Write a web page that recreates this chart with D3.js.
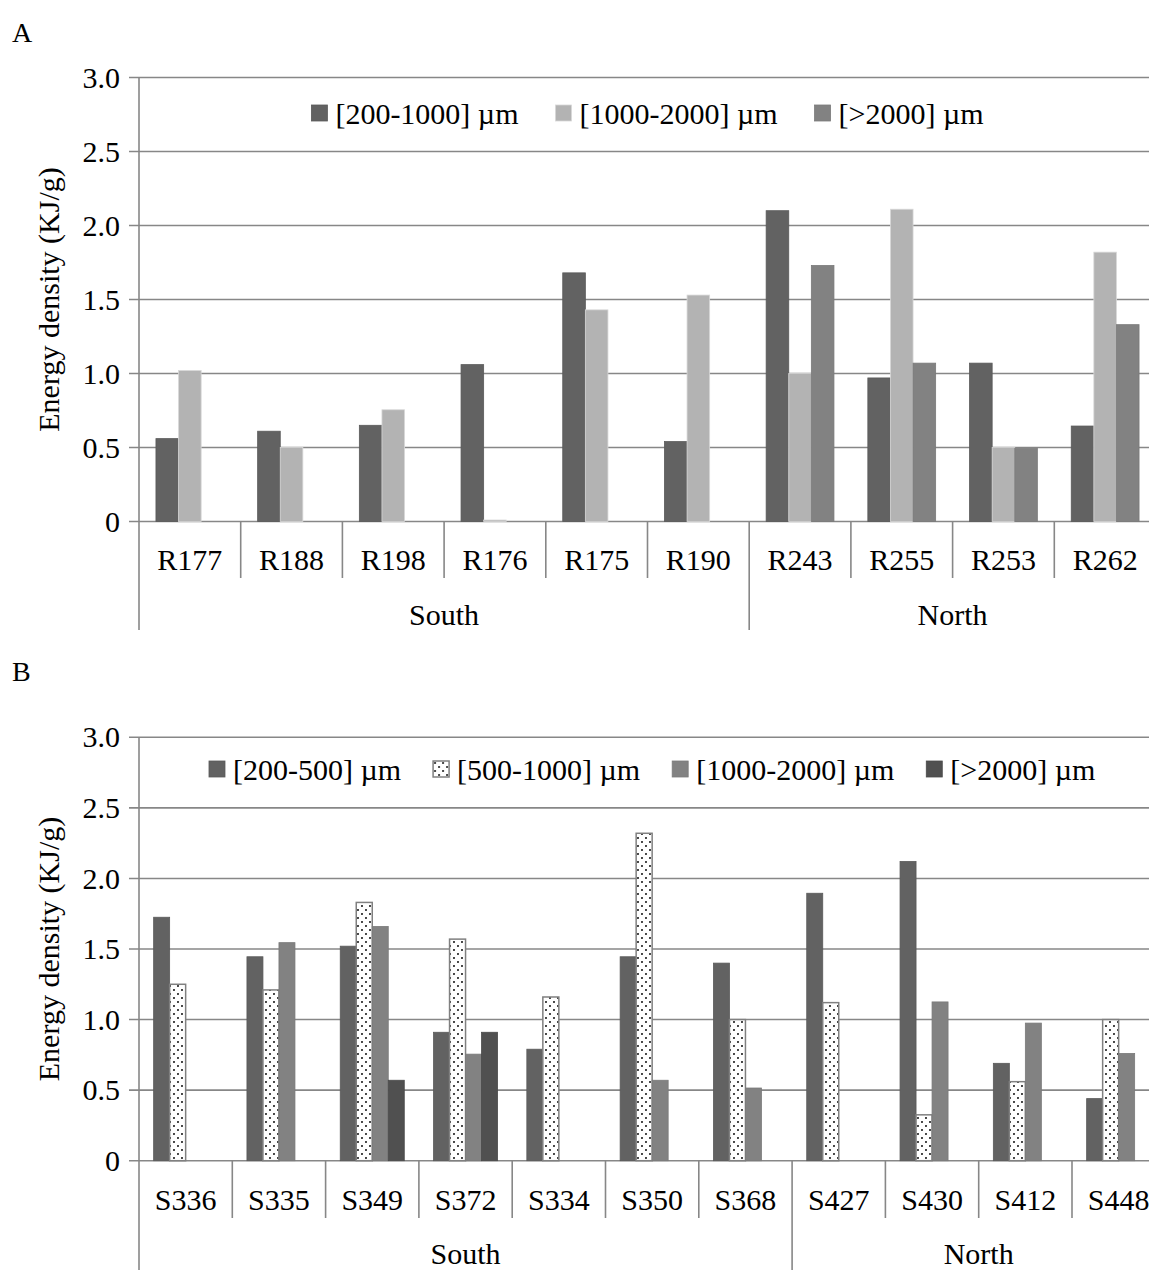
<!DOCTYPE html>
<html>
<head>
<meta charset="utf-8">
<script src="https://cdn.jsdelivr.net/npm/d3@7"></script>
<style>
  html, body { margin: 0; padding: 0; background: #fff; }
  svg { display: block; font-family: "Liberation Serif", "Times New Roman", serif; }
</style>
</head>
<body>
<svg id="chart" width="1149" height="1270"></svg>
<script>
// ---------- DATA ----------
const yTicks = [0, 0.5, 1.0, 1.5, 2.0, 2.5, 3.0];

// Panel A
const categoriesA = ["R177", "R188", "R198", "R176", "R175", "R190", "R243", "R255", "R253", "R262"];
const groupsA = [{ name: "South", count: 6 }, { name: "North", count: 4 }];
const seriesNamesA = ["[200-1000] µm", "[1000-2000] µm", "[>2000] µm"];
const a200_1000 = [0.56, 0.61, 0.65, 1.06, 1.68, 0.54, 2.10, 0.97, 1.07, 0.645];
const a1000_2000 = [1.02, 0.50, 0.755, 0.01, 1.43, 1.53, 1.00, 2.11, 0.50, 1.82];
const aOver2000 = [null, null, null, null, null, null, 1.73, 1.07, 0.495, 1.33];

// Panel B
const categoriesB = ["S336", "S335", "S349", "S372", "S334", "S350", "S368", "S427", "S430", "S412", "S448"];
const groupsB = [{ name: "South", count: 7 }, { name: "North", count: 4 }];
const seriesNamesB = ["[200-500] µm", "[500-1000] µm", "[1000-2000] µm", "[>2000] µm"];
const b200_500 = [1.725, 1.445, 1.52, 0.91, 0.79, 1.445, 1.40, 1.895, 2.12, 0.69, 0.44];
const b500_1000 = [1.25, 1.21, 1.83, 1.57, 1.16, 2.32, 1.00, 1.12, 0.325, 0.56, 1.00];
const b1000_2000 = [null, 1.545, 1.66, 0.755, null, 0.57, 0.515, null, 1.125, 0.975, 0.76];
const bOver2000 = [null, null, 0.57, 0.91, null, null, null, null, null, null, null];

// ---------- DRAWING ----------
const svg = d3.select("#chart");
const FONT = 30;
const GRID = "#878787";

const defs = svg.append("defs");
const pat = defs.append("pattern").attr("id", "dots").attr("patternUnits", "userSpaceOnUse")
  .attr("width", 8).attr("height", 8);
pat.append("rect").attr("width", 8).attr("height", 8).attr("fill", "#fff");
pat.append("circle").attr("cx", 2).attr("cy", 2).attr("r", 1.05).attr("fill", "#1a1a1a");
pat.append("circle").attr("cx", 6).attr("cy", 6).attr("r", 1.05).attr("fill", "#1a1a1a");

function drawPanel(cfg) {
  const g = svg.append("g");
  const x = d3.scaleBand().domain(cfg.categories).range([cfg.x0, cfg.x1]).paddingInner(0).paddingOuter(0);
  const y = d3.scaleLinear().domain([0, 3]).range([cfg.y0, cfg.y3]);
  const xs = d3.scaleBand().domain(d3.range(cfg.series.length)).range([0, x.bandwidth()])
    .paddingInner(0).paddingOuter(cfg.outerPad);

  // panel letter
  g.append("text").attr("x", 12).attr("y", cfg.letterY).attr("font-size", 28).text(cfg.letter);

  // gridlines
  g.append("g").selectAll("line").data(yTicks).join("line")
    .attr("x1", cfg.x0 - 10).attr("x2", 1149)
    .attr("y1", d => y(d)).attr("y2", d => y(d))
    .attr("stroke", GRID).attr("stroke-width", 1.6);

  // y axis using d3 axis for labels
  const yAxis = d3.axisLeft(y).tickValues(yTicks)
    .tickFormat(d => d === 0 ? "0" : d3.format(".1f")(d)).tickSize(0).tickPadding(19);
  const ya = g.append("g").attr("transform", `translate(${cfg.x0},0)`).call(yAxis);
  ya.select(".domain").remove();
  ya.selectAll("text").attr("font-size", FONT).attr("font-family", "Liberation Serif").attr("fill", "#000");

  // y axis title
  g.append("text")
    .attr("transform", `translate(${cfg.titleX},${(cfg.y0 + cfg.y3) / 2}) rotate(-90)`)
    .attr("text-anchor", "middle").attr("dominant-baseline", "central")
    .attr("font-size", FONT).text("Energy density (KJ/g)");

  // bars
  cfg.series.forEach((vals, si) => {
    g.append("g").selectAll("rect").data(vals.map((v, i) => ({ v, c: cfg.categories[i] })).filter(d => d.v != null))
      .join("rect")
      .attr("x", d => x(d.c) + xs(si))
      .attr("width", xs.bandwidth())
      .attr("y", d => y(d.v))
      .attr("height", d => y(0) - y(d.v))
      .attr("fill", cfg.fills[si])
      .attr("stroke", cfg.strokes[si])
      .attr("stroke-width", cfg.strokeW[si]);
  });

  // vertical axis line
  g.append("line").attr("x1", cfg.x0).attr("x2", cfg.x0)
    .attr("y1", cfg.y3).attr("y2", cfg.groupBottom)
    .attr("stroke", GRID).attr("stroke-width", 1.6);

  // category separators
  const bounds = cfg.categories.slice(1).map(c => x(c));
  let acc = 0;
  const groupBounds = new Set();
  cfg.groups.forEach(gr => { acc += gr.count; groupBounds.add(acc); });
  g.append("g").selectAll("line").data(bounds).join("line")
    .attr("x1", d => d).attr("x2", d => d)
    .attr("y1", cfg.y0)
    .attr("y2", (d, i) => groupBounds.has(i + 1) ? cfg.groupBottom : cfg.catBottom)
    .attr("stroke", GRID).attr("stroke-width", 1.6);

  // category labels
  g.append("g").selectAll("text").data(cfg.categories).join("text")
    .attr("x", d => x(d) + x.bandwidth() / 2)
    .attr("y", cfg.catLabelY)
    .attr("text-anchor", "middle").attr("font-size", FONT).text(d => d);

  // group labels
  let start = 0;
  cfg.groups.forEach(gr => {
    const a = x(cfg.categories[start]);
    const b = x(cfg.categories[start + gr.count - 1]) + x.bandwidth();
    g.append("text").attr("x", (a + b) / 2).attr("y", cfg.groupLabelY)
      .attr("text-anchor", "middle").attr("font-size", FONT).text(gr.name);
    start += gr.count;
  });

  // legend
  const lg = g.append("g");
  let cx = 0;
  const sq = 16, gapSq = 8, gapItem = cfg.legendGap;
  cfg.seriesNames.forEach((name, si) => {
    const item = lg.append("g").attr("transform", `translate(${cx},0)`);
    item.append("rect").attr("x", 0).attr("y", -sq / 2).attr("width", sq).attr("height", sq)
      .attr("fill", cfg.fills[si]).attr("stroke", cfg.strokes[si]).attr("stroke-width", cfg.strokeW[si]);
    const t = item.append("text").attr("x", sq + gapSq).attr("y", 0)
      .attr("dominant-baseline", "central").attr("font-size", FONT).text(name);
    const w = t.node().getComputedTextLength();
    cx += sq + gapSq + w + gapItem;
  });
  const totalW = cx - gapItem;
  lg.attr("transform", `translate(${(cfg.x0 + cfg.x1) / 2 - totalW / 2},${cfg.legendY})`);
}

drawPanel({
  letter: "A", letterY: 42,
  categories: categoriesA, groups: groupsA, seriesNames: seriesNamesA,
  series: [a200_1000, a1000_2000, aOver2000],
  fills: ["#626262", "#b3b3b3", "#828282"],
  strokes: ["#5a5a5a", "#d8d8d8", "#7a7a7a"],
  strokeW: [0.8, 0.8, 0.8],
  outerPad: 0.75,
  x0: 139, x1: 1156, y0: 521.5, y3: 77.5,
  titleX: 48, catBottom: 578, groupBottom: 630,
  catLabelY: 570, groupLabelY: 625, legendY: 113, legendGap: 37
});

drawPanel({
  letter: "B", letterY: 681,
  categories: categoriesB, groups: groupsB, seriesNames: seriesNamesB,
  series: [b200_500, b500_1000, b1000_2000, bOver2000],
  fills: ["#626262", "url(#dots)", "#828282", "#505050"],
  strokes: ["#5a5a5a", "#808080", "#7a7a7a", "#4a4a4a"],
  strokeW: [0.8, 1.5, 0.8, 0.8],
  outerPad: 0.915,
  x0: 139, x1: 1165.3, y0: 1160.7, y3: 737.3,
  titleX: 48, catBottom: 1218, groupBottom: 1270,
  catLabelY: 1210, groupLabelY: 1264, legendY: 769, legendGap: 32
});
</script>
</body>
</html>
